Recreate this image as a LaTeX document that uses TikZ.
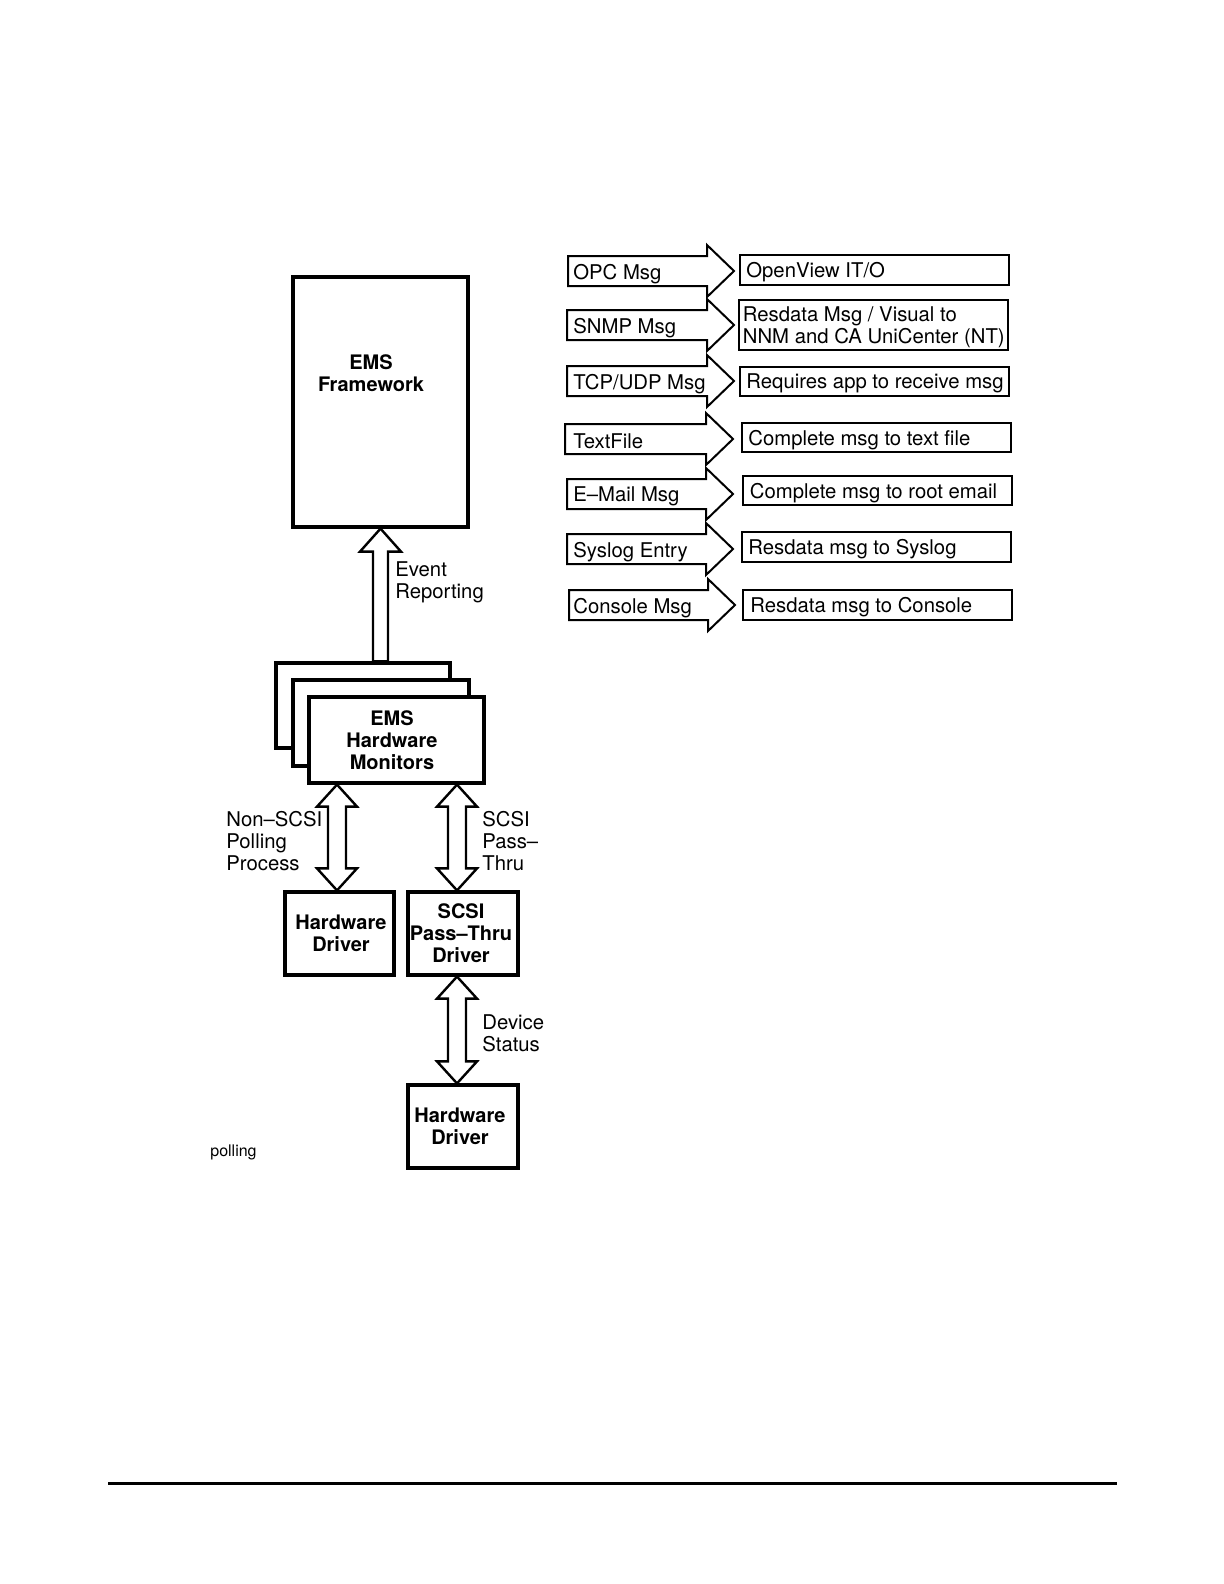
\documentclass[tikz,border=0pt]{standalone}
\usepackage{fontspec}
\setmainfont{TeX Gyre Heros}
\usetikzlibrary{calc}
\tikzset{
 conn/.style={draw=black, line width=1pt, fill=white, line join=miter},
 vconn/.style={draw=black, line width=1.2pt, fill=white, line join=miter},
 bigbox/.style={draw, line width=1.6pt, fill=white, inner sep=0pt, font=\bfseries\fontsize{10}{11}\selectfont, align=center},
 destbox/.style={draw, line width=1pt, inner sep=0pt, minimum width=134.5pt},
 txt/.style={inner sep=0pt, yshift=-1.1pt, font=\fontsize{10.15}{11}\selectfont, align=left},
 btxt/.style={inner sep=0pt, font=\bfseries\fontsize{10}{11}\selectfont, align=center},
}
% double headed vertical block arrow between two points (top, bottom)
\newcommand\dblarrow[2]{%
 \draw[vconn] let \p1=(#1), \p2=(#2) in
  (\x1,\y1) -- (\x1+10pt,\y1-11pt) -- (\x1+4.5pt,\y1-11pt) -- (\x1+4.5pt,\y2+11pt)
  -- (\x1+10pt,\y2+11pt) -- (\x1,\y2) -- (\x1-10pt,\y2+11pt) -- (\x1-4.5pt,\y2+11pt)
  -- (\x1-4.5pt,\y1-11pt) -- (\x1-10pt,\y1-11pt) -- cycle;}
% right block arrow with text: name, left x, top y, head base x, tip x, text
\newcommand\msgarrow[6]{%
 \draw[conn] (#2,#3) -- (#4,#3) -- (#4,#3-11) -- (#5,#3+15) -- (#4,#3+41)
   -- (#4,#3+30) -- (#2,#3+30) -- cycle;
 \node[txt,anchor=west] (#1) at (573,#3+15.5) {#6};}
% destination box: name, cx, cy, height(pt), pad(pt), text
\newcommand\destbox[6]{%
 \node[destbox, minimum height=#4] (#1) at (#2,#3) {};
 \node[txt,anchor=west] (#1t) at ([xshift=#5]#1.west) {#6};}

\begin{document}
\begin{tikzpicture}[x=0.5pt,y=-0.5pt]
\useasboundingbox (0,0) rectangle (1224,1584);

% ---------- left column ----------
\node[bigbox, minimum width=87.5pt, minimum height=125pt] (fw) at (380.5,402) {};
\node[btxt] (fwtext) at (371,373) {EMS\\Framework};

\node[bigbox, minimum width=87pt, minimum height=42.5pt] (hwback) at (363,705.5) {};

% Event reporting (single headed, up)
\draw[vconn] let \p1=(380.5,0 |- fw.south), \p2=(380.5,0 |- hwback.north) in
  (\x1,\y1) -- (\x1+10.25pt,\y1-11.5pt) -- (\x1+3.75pt,\y1-11.5pt) -- (\x1+3.75pt,\y2)
  -- (\x1-3.75pt,\y2) -- (\x1-3.75pt,\y1-11.5pt) -- (\x1-10.25pt,\y1-11.5pt) -- cycle;
\node[txt,anchor=west] (evlab) at (395,580) {Event\\Reporting};

\node[bigbox, minimum width=88pt, minimum height=43pt] (hwmid) at (381,723) {};
\node[bigbox, minimum width=87.5pt, minimum height=43pt] (hwfront) at (396.5,740) {};
\node[btxt] (hwtext) at (392,740) {EMS\\Hardware\\Monitors};

\node[bigbox, minimum width=54.5pt, minimum height=41.5pt] (hwd1) at (339.5,933.5) {};
\node[btxt] (hwd1t) at (341,933) {Hardware\\Driver};
\node[bigbox, minimum width=55pt, minimum height=41.5pt] (scsi) at (463,933.5) {};
\node[btxt] (scsit) at (461,933) {SCSI\\Pass--Thru\\Driver};
\node[bigbox, minimum width=55pt, minimum height=41.5pt] (hwd2) at (463,1126.5) {};
\node[btxt] (hwd2t) at (460,1126) {Hardware\\Driver};

\dblarrow{337,0 |- hwfront.south}{337,0 |- hwd1.north}
\dblarrow{457,0 |- hwfront.south}{457,0 |- scsi.north}
\dblarrow{457,0 |- scsi.south}{457,0 |- hwd2.north}

\node[txt,anchor=west] (nonscsi) at (226,839) {Non--SCSI\\Polling\\Process};
\node[txt,anchor=west] (scsilab) at (482,839) {SCSI\\Pass--\\Thru};
\node[txt,anchor=west] (devlab) at (482,1031) {Device\\Status};
\node[inner sep=0pt, font=\fontsize{8}{9}\selectfont, anchor=west] (poll) at (210,1152) {polling};

% ---------- right column ----------
\msgarrow{m1}{568}{256}{707}{734}{OPC Msg}
\msgarrow{m2}{567}{310}{707}{734}{SNMP Msg}
\msgarrow{m3}{567}{366}{707}{734}{TCP/UDP Msg}
\msgarrow{m4}{565}{424}{706}{733}{TextFile}
\msgarrow{m5}{567}{479}{706}{733}{E--Mail Msg}
\msgarrow{m6}{567}{534}{706}{733}{Syslog Entry}
\msgarrow{m7}{569}{590}{708}{735}{Console Msg}

\destbox{d1}{874.5}{270}{15pt}{3.5pt}{OpenView IT/O}
\destbox{d2}{873}{325}{25pt}{2.5pt}{Resdata Msg / Visual to\\NNM and CA UniCenter (NT)}
\destbox{d3}{874.5}{381.5}{14.5pt}{3.5pt}{Requires app to receive msg}
\destbox{d4}{876.5}{437.5}{14.5pt}{3.5pt}{Complete msg to text file}
\destbox{d5}{877}{490.5}{14.5pt}{4pt}{Complete msg to root email}
\destbox{d6}{876.5}{546.5}{15pt}{3.5pt}{Resdata msg to Syslog}
\destbox{d7}{877.5}{605}{15pt}{4pt}{Resdata msg to Console}

% ---------- bottom rule ----------
\coordinate (ruleL) at (108,1483);
\coordinate (ruleR) at (1117,1483);
\draw[line width=1.5pt] (ruleL) -- (ruleR);
\end{tikzpicture}
\end{document}
